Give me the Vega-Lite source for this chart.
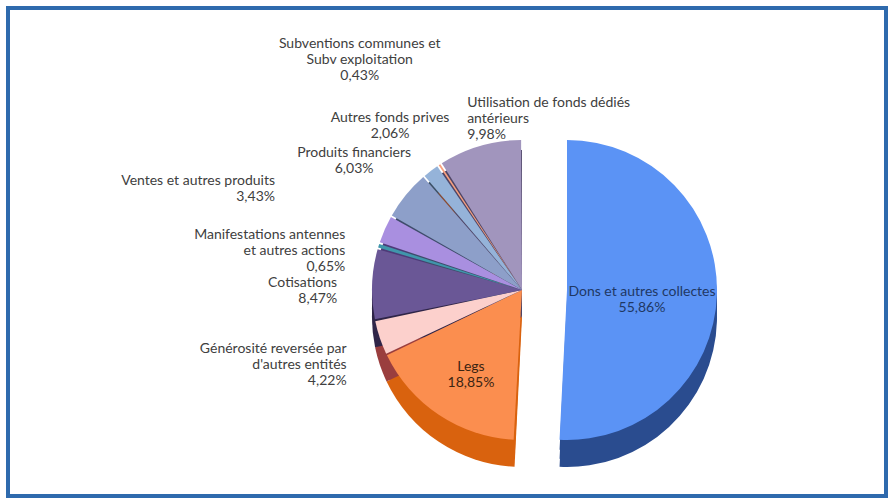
{
  "$schema": "https://vega.github.io/schema/vega-lite/v6.json",
  "width": 878,
  "height": 488,
  "autosize": {"type": "none"},
  "padding": 8,
  "background": "white",
  "view": {"stroke": "#2e6aad", "strokeWidth": 4},
  "config": {
    "view": {"stroke": "#2e6aad", "strokeWidth": 4},
    "text": {"font": "Lato", "fontSize": 14, "lineBreak": "\n"}
  },
  "data": {
    "values": [
      {"source": "Dons et autres collectes", "value": 55.86},
      {"source": "Legs", "value": 18.85},
      {"source": "Générosité reversée par\nd'autres entités", "value": 4.22},
      {"source": "Cotisations", "value": 8.47},
      {"source": "Manifestations antennes\net autres actions", "value": 0.65},
      {"source": "Ventes et autres produits", "value": 3.43},
      {"source": "Produits financiers", "value": 6.03},
      {"source": "Autres fonds prives", "value": 2.06},
      {"source": "Subventions communes et\nSubv exploitation", "value": 0.43},
      {"source": "Utilisation de fonds dédiés\nantérieurs", "value": 9.98}
    ]
  },
  "transform": [
    {"window": [{"op": "row_number", "as": "k"}]},
    {"calculate": "datum.source + '\\n' + replace(format(datum.value, '.2f'), '.', ',') + '%'", "as": "label"}
  ],
  "encoding": {
    "theta": {"field": "value", "type": "quantitative", "stack": true},
    "order": {"field": "k", "type": "quantitative"}
  },
  "layer": [
    {
      "encoding": {
        "color": {
          "field": "source", "type": "nominal", "legend": null,
          "scale": {
            "domain": ["Dons et autres collectes", "Legs", "Générosité reversée par\nd'autres entités", "Cotisations", "Manifestations antennes\net autres actions", "Ventes et autres produits", "Produits financiers", "Autres fonds prives", "Subventions communes et\nSubv exploitation", "Utilisation de fonds dédiés\nantérieurs"],
            "range": ["#2a4c8f", "#d9620e", "#9a3e3e", "#2f2548", "#1d4a57", "#4d3b78", "#3f4c6b", "#3c5066", "#8a4a30", "#4e4566"]
          }
        },
        "opacity": {"condition": {"test": "datum.k == 1", "value": 0}, "value": 1}
      },
      "layer": [
        {"mark": {"type": "arc", "outerRadius": 150, "xOffset": 75, "yOffset": 48}},
        {"mark": {"type": "arc", "outerRadius": 150, "xOffset": 75, "yOffset": 57}},
        {"mark": {"type": "arc", "outerRadius": 150, "xOffset": 75, "yOffset": 65}}
      ]
    },
    {
      "encoding": {
        "color": {
          "field": "source", "type": "nominal", "legend": null,
          "scale": {
            "domain": ["Dons et autres collectes", "Legs", "Générosité reversée par\nd'autres entités", "Cotisations", "Manifestations antennes\net autres actions", "Ventes et autres produits", "Produits financiers", "Autres fonds prives", "Subventions communes et\nSubv exploitation", "Utilisation de fonds dédiés\nantérieurs"],
            "range": ["#2a4c8f", "#d9620e", "#9a3e3e", "#2f2548", "#1d4a57", "#4d3b78", "#3f4c6b", "#3c5066", "#8a4a30", "#4e4566"]
          }
        },
        "opacity": {"condition": {"test": "datum.k == 1", "value": 1}, "value": 0}
      },
      "layer": [
        {"mark": {"type": "arc", "outerRadius": 150, "xOffset": 120, "yOffset": 48}},
        {"mark": {"type": "arc", "outerRadius": 150, "xOffset": 120, "yOffset": 57}},
        {"mark": {"type": "arc", "outerRadius": 150, "xOffset": 120, "yOffset": 65}}
      ]
    },
    {
      "mark": {"type": "arc", "outerRadius": 150, "xOffset": 75, "yOffset": 38, "padAngle": 0.012},
      "encoding": {
        "color": {
          "field": "source", "type": "nominal", "legend": null,
          "scale": {
            "domain": ["Dons et autres collectes", "Legs", "Générosité reversée par\nd'autres entités", "Cotisations", "Manifestations antennes\net autres actions", "Ventes et autres produits", "Produits financiers", "Autres fonds prives", "Subventions communes et\nSubv exploitation", "Utilisation de fonds dédiés\nantérieurs"],
            "range": ["#5b93f5", "#fb8e4f", "#fcd0cc", "#6a5796", "#4096ab", "#a98fe0", "#8d9fc9", "#95b3d9", "#f7a07f", "#a195bd"]
          }
        },
        "opacity": {"condition": {"test": "datum.k == 1", "value": 0}, "value": 1}
      }
    },
    {
      "mark": {"type": "arc", "outerRadius": 150, "xOffset": 120, "yOffset": 38},
      "encoding": {
        "color": {
          "field": "source", "type": "nominal", "legend": null,
          "scale": {
            "domain": ["Dons et autres collectes", "Legs", "Générosité reversée par\nd'autres entités", "Cotisations", "Manifestations antennes\net autres actions", "Ventes et autres produits", "Produits financiers", "Autres fonds prives", "Subventions communes et\nSubv exploitation", "Utilisation de fonds dédiés\nantérieurs"],
            "range": ["#5b93f5", "#fb8e4f", "#fcd0cc", "#6a5796", "#4096ab", "#a98fe0", "#8d9fc9", "#95b3d9", "#f7a07f", "#a195bd"]
          }
        },
        "opacity": {"condition": {"test": "datum.k == 1", "value": 1}, "value": 0}
      }
    },
    {
      "mark": {"type": "text", "radius": 75, "align": "center", "baseline": "middle", "xOffset": 120, "yOffset": 38, "color": "#1f3864", "lineBreak": "\n"},
      "encoding": {
        "text": {"field": "label"},
        "opacity": {"condition": {"test": "datum.k == 1", "value": 1}, "value": 0}
      }
    },
    {
      "mark": {"type": "text", "radius": 92, "align": "center", "baseline": "middle", "xOffset": 75, "yOffset": 38, "color": "#3b2412", "lineBreak": "\n"},
      "encoding": {
        "text": {"field": "label"},
        "opacity": {"condition": {"test": "datum.k == 2", "value": 1}, "value": 0}
      }
    },
    {
      "mark": {"type": "text", "radius": 185, "align": "right", "baseline": "middle", "xOffset": 75, "yOffset": 38, "color": "#404040", "lineBreak": "\n"},
      "encoding": {
        "text": {"field": "label"},
        "opacity": {"condition": {"test": "datum.k == 3 || datum.k == 4 || datum.k == 5", "value": 1}, "value": 0}
      }
    },
    {
      "mark": {"type": "text", "radius": 270, "align": "right", "baseline": "middle", "xOffset": 75, "yOffset": 38, "color": "#404040", "lineBreak": "\n"},
      "encoding": {
        "text": {"field": "label"},
        "opacity": {"condition": {"test": "datum.k == 6", "value": 1}, "value": 0}
      }
    },
    {
      "mark": {"type": "text", "radius": 217, "align": "center", "baseline": "middle", "xOffset": 75, "yOffset": 38, "color": "#404040", "lineBreak": "\n"},
      "encoding": {
        "text": {"field": "label"},
        "opacity": {"condition": {"test": "datum.k == 7 || datum.k == 8", "value": 1}, "value": 0}
      }
    },
    {
      "mark": {"type": "text", "radius": 295, "align": "center", "baseline": "middle", "xOffset": 75, "yOffset": 38, "color": "#404040", "lineBreak": "\n"},
      "encoding": {
        "text": {"field": "label"},
        "opacity": {"condition": {"test": "datum.k == 9", "value": 1}, "value": 0}
      }
    },
    {
      "mark": {"type": "text", "radius": 195, "align": "left", "baseline": "middle", "xOffset": 75, "yOffset": 38, "color": "#404040", "lineBreak": "\n"},
      "encoding": {
        "text": {"field": "label"},
        "opacity": {"condition": {"test": "datum.k == 10", "value": 1}, "value": 0}
      }
    }
  ],
  "resolve": {"scale": {"color": "independent"}}
}
